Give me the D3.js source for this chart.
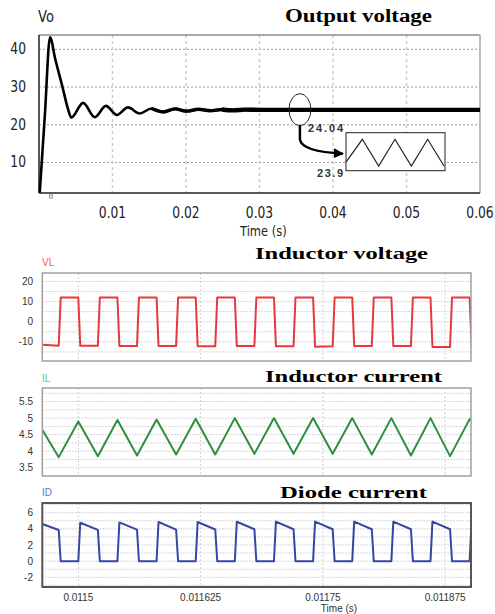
<!DOCTYPE html>
<html>
<head>
<meta charset="utf-8">
<script src="https://cdn.jsdelivr.net/npm/d3@7"></script>
<style>
body { margin: 0; background: #fff; }
svg { display: block; }
</style>
</head>
<body>
<script>
// output voltage, start-up transient (s, V)
var voTime = [0.0001, 0.0008, 0.0015, 0.0022, 0.0032, 0.0039, 0.0044, 0.006, 0.0076, 0.0091, 0.0106, 0.0121, 0.0137,
	0.0153, 0.0169, 0.0185, 0.0201, 0.0217, 0.0233, 0.0249, 0.0265, 0.028, 0.03, 0.04, 0.05, 0.06];
var voValue = [2, 22.6, 43.2, 37.5, 30, 24.5, 21.9, 25.8, 22.0, 25.0, 22.6, 24.6, 23.0,
	24.3, 23.4, 24.2, 23.6, 24.1, 23.7, 24.05, 23.8, 24.0, 23.95, 23.95, 23.95, 23.95];
var voXTicks = [0.01, 0.02, 0.03, 0.04, 0.05, 0.06];
var voYTicks = [10, 20, 30, 40];

// zoomed ripple in the inset (us, V)
var insetTime = [0, 20, 40, 60, 80, 100, 120];
var insetValue = [23.92, 24.04, 23.9, 24.04, 23.9, 24.04, 23.9];

// switching detail (s)
var swTime = [0.0114632,
	0.01148, 0.011482, 0.0115, 0.011502,
	0.01152, 0.011522, 0.01154, 0.011542,
	0.01156, 0.011562, 0.01158, 0.011582,
	0.0116, 0.011602, 0.01162, 0.011622,
	0.01164, 0.011642, 0.01166, 0.011662,
	0.01168, 0.011682, 0.0117, 0.011702,
	0.01172, 0.011722, 0.01174, 0.011742,
	0.01176, 0.011762, 0.01178, 0.011782,
	0.0118, 0.011802, 0.01182, 0.011822,
	0.01184, 0.011842, 0.01186, 0.011862,
	0.01188, 0.011882, 0.0119, 0.011902];
var vlValue = [-11.4,
	-11.9, 12, 12, -11.9,
	-11.9, 12, 12, -12,
	-12, 12, 12, -12,
	-12, 12, 12, -12.2,
	-12.2, 12, 12, -12,
	-12, 12, 12, -12.2,
	-12.2, 12, 12, -12.4,
	-12.2, 12, 12, -12,
	-12, 12, 12, -12,
	-12, 12, 12, -12.5,
	-12.5, 12, 12, -12];
var idValue = [4.6,
	3.85, 0, 0, 4.75,
	3.88, 0, 0, 4.8,
	3.9, 0, 0, 4.85,
	3.9, 0, 0, 4.85,
	3.92, 0, 0, 4.88,
	3.95, 0, 0, 4.9,
	3.95, 0, 0, 4.9,
	3.95, 0, 0, 4.9,
	3.95, 0, 0, 4.9,
	3.95, 0, 0, 4.9,
	3.95, 0, 0, 4.9];
var ilTime = [0.0114632, 0.01148, 0.0115, 0.01152, 0.01154, 0.01156, 0.01158, 0.0116, 0.01162, 0.01164, 0.01166,
	0.01168, 0.0117, 0.01172, 0.01174, 0.01176, 0.01178, 0.0118, 0.01182, 0.01184, 0.01186, 0.01188, 0.0119, 0.0119014];
var ilValue = [4.65, 3.82, 4.9, 3.85, 4.94, 3.87, 4.96, 3.9, 4.98, 3.9, 5.0,
	3.92, 5.0, 3.92, 5.0, 3.92, 5.0, 3.9, 5.0, 3.87, 5.0, 3.85, 4.97, 4.95];
var swXTicks = [0.0115, 0.011625, 0.01175, 0.011875];
var swXLabels = ["0.0115", "0.011625", "0.01175", "0.011875"];
var vlYTicks = [20, 10, 0, -10];
var ilYTicks = [5.5, 5, 4.5, 4, 3.5];
var idYTicks = [6, 4, 2, 0, -2];

var narrow = "'Liberation Sans Narrow', 'Arial Narrow', 'DejaVu Sans', sans-serif";
var sans = "'Liberation Sans', Arial, sans-serif";
var serif = "'Liberation Serif', 'Times New Roman', serif";

var svg = d3.select("body").append("svg")
	.attr("width", 495)
	.attr("height", 614);

var defs = svg.append("defs");
defs.append("marker")
	.attr("id", "arrow")
	.attr("viewBox", "0 0 10 10")
	.attr("refX", 9).attr("refY", 5)
	.attr("markerWidth", 4).attr("markerHeight", 4)
	.attr("orient", "auto")
	.append("path")
	.attr("d", "M0,0 L10,5 L0,10 z")
	.attr("fill", "black");

function pairs(t, v) {
	return t.map(function(d, i) { return [d, v[i]]; });
}

// narrow labels: squeeze a normal sans horizontally around its anchor
function narrowText(sel, x, y, anchor, size, txt) {
	return sel.append("text")
		.attr("transform", "translate(" + x + "," + y + ") scale(0.82,1)")
		.attr("text-anchor", anchor)
		.style("font-family", narrow)
		.style("font-size", size + "px")
		.attr("fill", "#222")
		.text(txt);
}

// ---------- output voltage ----------
var x0 = d3.scaleLinear().domain([0, 0.06]).range([39, 480]);
var y0 = d3.scaleLinear().domain([1.9, 43.8]).range([193, 35]);

svg.selectAll(".vo-hgrid")
	.data(voYTicks).enter()
	.append("line")
	.attr("x1", x0(0)).attr("x2", x0(0.06))
	.attr("y1", function(d) { return y0(d); })
	.attr("y2", function(d) { return y0(d); })
	.attr("stroke", "#999")
	.attr("stroke-dasharray", "2,2");

svg.selectAll(".vo-vgrid")
	.data(voXTicks.slice(0, 5)).enter()
	.append("line")
	.attr("x1", function(d) { return x0(d); })
	.attr("x2", function(d) { return x0(d); })
	.attr("y1", y0.range()[1]).attr("y2", y0.range()[0])
	.attr("stroke", "#ccc")
	.attr("stroke-width", 1.5)
	.attr("stroke-dasharray", "3,3");

// frame
svg.append("line").attr("x1", 39).attr("x2", 480).attr("y1", 35).attr("y2", 35).attr("stroke", "#555");
svg.append("line").attr("x1", 480).attr("x2", 480).attr("y1", 35).attr("y2", 193).attr("stroke", "#bbb").attr("stroke-width", 2);
svg.append("line").attr("x1", 39).attr("x2", 39).attr("y1", 35).attr("y2", 193).attr("stroke", "#222").attr("stroke-width", 1.5);
svg.append("line").attr("x1", 39).attr("x2", 480).attr("y1", 193).attr("y2", 193).attr("stroke", "#222").attr("stroke-width", 1.5);
svg.append("rect").attr("x", 49.5).attr("y", 195).attr("width", 3).attr("height", 3)
	.attr("fill", "none").attr("stroke", "#777").attr("stroke-width", 0.8);

var voLine = d3.line()
	.x(function(d) { return x0(d[0]); })
	.y(function(d) { return y0(d[1]); })
	.curve(d3.curveMonotoneX);

var voData = pairs(voTime, voValue);
svg.append("path")
	.attr("d", voLine(voData))
	.attr("fill", "none")
	.attr("stroke", "black")
	.attr("stroke-width", 2.6);
// later part looks thicker because of the ripple
svg.append("path")
	.attr("d", voLine(voData.filter(function(d) { return d[0] >= 0.0153; })))
	.attr("fill", "none")
	.attr("stroke", "black")
	.attr("stroke-width", 3.4);
svg.append("path")
	.attr("d", voLine(voData.filter(function(d) { return d[0] >= 0.0249; })))
	.attr("fill", "none")
	.attr("stroke", "black")
	.attr("stroke-width", 4.4);

voYTicks.forEach(function(d) {
	narrowText(svg, 26, y0(d) + 5, "end", 15, d);
});
voXTicks.forEach(function(d) {
	narrowText(svg, x0(d), 218, "middle", 15, d);
});
narrowText(svg, 240, 236, "start", 14, "Time (s)");
narrowText(svg, 38, 22, "start", 16, "Vo");

svg.append("text").attr("x", 285).attr("y", 22)
	.attr("textLength", 147).attr("lengthAdjust", "spacingAndGlyphs")
	.style("font-family", serif).style("font-size", "18px").style("font-weight", "bold")
	.text("Output voltage");

// zoom annotation
var ex = x0(0.0355), ey = y0(24);
svg.append("ellipse")
	.attr("cx", ex).attr("cy", ey)
	.attr("rx", 11).attr("ry", 16)
	.attr("fill", "none").attr("stroke", "#222").attr("stroke-width", 1);
svg.append("path")
	.attr("d", "M" + ex + "," + (ey + 16) + " L" + ex + "," + (ey + 30) + " Q" + (ex + 2) + "," + (ey + 42) + " " + (ex + 43) + "," + (ey + 44))
	.attr("fill", "none")
	.attr("stroke", "black")
	.attr("stroke-width", 2.5)
	.attr("marker-end", "url(#arrow)");

var ix = d3.scaleLinear().domain([0, 120]).range([346, 444]);
var iy = d3.scaleLinear().domain([23.9, 24.04]).range([166, 139.3]);
svg.append("rect")
	.attr("x", 346).attr("y", 132.7).attr("width", 99).attr("height", 38)
	.attr("fill", "white").attr("stroke", "#222").attr("stroke-width", 1);
svg.append("path")
	.attr("d", d3.line()
		.x(function(d) { return ix(d[0]); })
		.y(function(d) { return iy(d[1]); })(pairs(insetTime, insetValue)))
	.attr("fill", "none").attr("stroke", "#222").attr("stroke-width", 1.2);
svg.append("text").attr("x", 308).attr("y", 132)
	.attr("textLength", 35).attr("lengthAdjust", "spacing")
	.style("font-family", sans).style("font-size", "11px").style("font-weight", "bold").attr("fill", "#333")
	.text("24.04");
svg.append("text").attr("x", 317).attr("y", 177)
	.attr("textLength", 26).attr("lengthAdjust", "spacing")
	.style("font-family", sans).style("font-size", "11px").style("font-weight", "bold").attr("fill", "#333")
	.text("23.9");

// ---------- switching waveforms ----------
var xs = d3.scaleLinear().domain([0.0114632, 0.0119014]).range([42.3, 471]);

function drawPanel(p) {
	var y = d3.scaleLinear().domain(p.yDomain).range([p.bottom, p.top]);
	var g = svg.append("g");
	var clipId = "clip-" + p.name;
	defs.append("clipPath").attr("id", clipId)
		.append("rect")
		.attr("x", xs.range()[0]).attr("y", p.top)
		.attr("width", xs.range()[1] - xs.range()[0]).attr("height", p.bottom - p.top);

	g.selectAll(".hgrid")
		.data(p.grid).enter()
		.append("line")
		.attr("x1", xs.range()[0]).attr("x2", xs.range()[1])
		.attr("y1", function(d) { return y(d); })
		.attr("y2", function(d) { return y(d); })
		.attr("stroke", "#c8c8c8")
		.attr("stroke-dasharray", "1.5,1.5");
	g.selectAll(".vgrid")
		.data(swXTicks).enter()
		.append("line")
		.attr("x1", function(d) { return xs(d); })
		.attr("x2", function(d) { return xs(d); })
		.attr("y1", p.top).attr("y2", p.bottom)
		.attr("stroke", "#d0d0d0")
		.attr("stroke-dasharray", "2,2");

	g.append("path")
		.attr("clip-path", "url(#" + clipId + ")")
		.attr("d", d3.line()
			.x(function(d) { return xs(d[0]); })
			.y(function(d) { return y(d[1]); })(pairs(p.time, p.values)))
		.attr("fill", "none")
		.attr("stroke", p.color)
		.attr("stroke-width", 2)
		.attr("stroke-linejoin", "round");

	g.append("rect")
		.attr("x", xs.range()[0]).attr("y", p.top)
		.attr("width", xs.range()[1] - xs.range()[0]).attr("height", p.bottom - p.top)
		.attr("fill", "none")
		.attr("stroke", p.frame)
		.attr("stroke-width", p.frameWidth);

	g.selectAll(".ylab")
		.data(p.ticks).enter()
		.append("text")
		.attr("x", 33)
		.attr("y", function(d) { return y(d); })
		.attr("dy", "0.35em")
		.attr("text-anchor", "end")
		.style("font-family", sans)
		.style("font-size", "10px")
		.attr("fill", "#333")
		.text(function(d) { return d; });

	g.append("text")
		.attr("x", 42).attr("y", p.labelY)
		.style("font-family", sans).style("font-size", "10px")
		.attr("fill", p.labelColor)
		.text(p.name);
	g.append("text")
		.attr("x", p.titleX).attr("y", p.titleY)
		.attr("textLength", p.titleLen).attr("lengthAdjust", "spacingAndGlyphs")
		.style("font-family", serif).style("font-size", "17px").style("font-weight", "bold")
		.text(p.title);
}

drawPanel({
	name: "VL", title: "Inductor voltage", titleX: 255, titleY: 259, titleLen: 173,
	top: 273, bottom: 361, yDomain: [-19.5, 24.2],
	grid: [-15, -10, -5, 0, 5, 10, 15, 20], ticks: vlYTicks,
	time: swTime, values: vlValue,
	color: "#e8383d", labelColor: "#f05a5a", labelY: 266,
	frame: "#a0a0a0", frameWidth: 1.5
});
drawPanel({
	name: "IL", title: "Inductor current", titleX: 265, titleY: 381.5, titleLen: 177,
	top: 388, bottom: 476, yDomain: [3.25, 5.91],
	grid: [3.5, 3.75, 4, 4.25, 4.5, 4.75, 5, 5.25, 5.5, 5.75], ticks: ilYTicks,
	time: ilTime, values: ilValue,
	color: "#2f8f3e", labelColor: "#6cc070", labelY: 381.5,
	frame: "#a0a0a0", frameWidth: 1.5
});
drawPanel({
	name: "ID", title: "Diode current", titleX: 280, titleY: 497.5, titleLen: 147,
	top: 503, bottom: 587, yDomain: [-3.2, 7.2],
	grid: [-3, -2, -1, 0, 1, 2, 3, 4, 5, 6, 7], ticks: idYTicks,
	time: swTime, values: idValue,
	color: "#3447a6", labelColor: "#6c72c8", labelY: 495.5,
	frame: "#555", frameWidth: 2
});

svg.selectAll(".sw-xlab")
	.data(swXTicks).enter()
	.append("text")
	.attr("x", function(d) { return xs(d); })
	.attr("y", 601)
	.attr("text-anchor", "middle")
	.style("font-family", sans)
	.style("font-size", "10px")
	.attr("fill", "#333")
	.text(function(d, i) { return swXLabels[i]; });
svg.append("text").attr("x", 339).attr("y", 611.5)
	.attr("text-anchor", "middle")
	.style("font-family", sans).style("font-size", "10px").attr("fill", "#333")
	.text("Time (s)");
</script>
</body>
</html>
